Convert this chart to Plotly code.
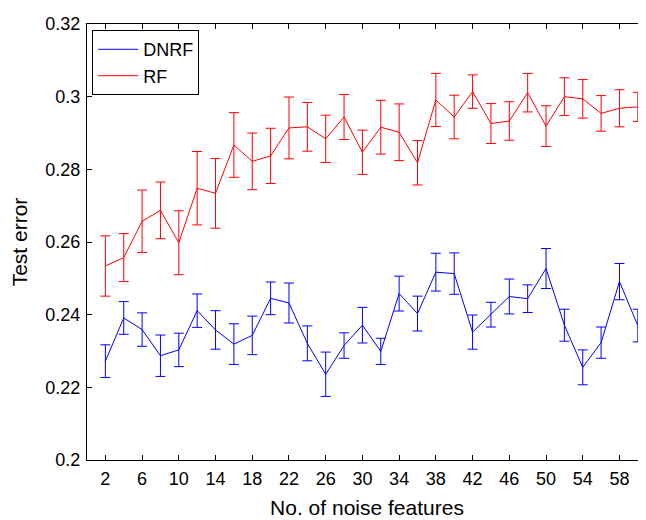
import plotly.graph_objects as go

noise_features = list(range(2, 61, 2))

dnrf_mean = [0.2272, 0.2391, 0.2359, 0.2287, 0.2303, 0.2411, 0.2358, 0.2319, 0.2343, 0.2445,
             0.2432, 0.2321, 0.2236, 0.2315, 0.2371, 0.2299, 0.2458, 0.2403, 0.2517, 0.2513,
             0.2352, 0.2400, 0.2450, 0.2444, 0.2527, 0.2371, 0.2255, 0.2323, 0.2491, 0.2370]
dnrf_err = [0.0045, 0.0045, 0.0046, 0.0057, 0.0046, 0.0046, 0.0053, 0.0056, 0.0053, 0.0045,
            0.0055, 0.0048, 0.0061, 0.0035, 0.0049, 0.0036, 0.0048, 0.0048, 0.0052, 0.0057,
            0.0047, 0.0034, 0.0048, 0.0038, 0.0055, 0.0044, 0.0048, 0.0043, 0.0050, 0.0045]

rf_mean = [0.2534, 0.2557, 0.2657, 0.2687, 0.2598, 0.2748, 0.2734, 0.2867, 0.2822, 0.2837,
           0.2914, 0.2917, 0.2884, 0.2944, 0.2847, 0.2916, 0.2902, 0.2818, 0.2991, 0.2944,
           0.3014, 0.2926, 0.2933, 0.3011, 0.2919, 0.3000, 0.2994, 0.2954, 0.2968, 0.2972]
rf_err = [0.0083, 0.0066, 0.0086, 0.0078, 0.0088, 0.0101, 0.0096, 0.0089, 0.0078, 0.0076,
          0.0085, 0.0067, 0.0065, 0.0062, 0.0061, 0.0074, 0.0078, 0.0061, 0.0073, 0.0060,
          0.0046, 0.0055, 0.0053, 0.0053, 0.0056, 0.0052, 0.0053, 0.0049, 0.0051, 0.0040]

x_ticks = list(range(2, 60, 4))
y_ticks = [0.2, 0.22, 0.24, 0.26, 0.28, 0.3, 0.32]
y_labels = ["0.2", "0.22", "0.24", "0.26", "0.28", "0.3", "0.32"]

FONT = "Liberation Sans, Arial, sans-serif"

fig = go.Figure()
fig.add_trace(go.Scatter(
    x=noise_features, y=dnrf_mean, mode="lines", name="DNRF",
    line=dict(color="#0000ff", width=1),
    error_y=dict(type="data", array=dnrf_err, visible=True, color="#0000ff", thickness=1, width=5),
))
fig.add_trace(go.Scatter(
    x=noise_features, y=rf_mean, mode="lines", name="RF",
    line=dict(color="#ff0000", width=1),
    error_y=dict(type="data", array=rf_err, visible=True, color="#ff0000", thickness=1, width=5),
))

axis_common = dict(
    showline=True, linecolor="black", linewidth=1, mirror="ticks",
    ticks="inside", ticklen=5, tickcolor="black", tickwidth=1,
    showgrid=False, zeroline=False,
    tickfont=dict(family=FONT, size=18, color="black"),
)

fig.update_layout(
    width=646, height=520,
    margin=dict(l=79, r=6, t=10, b=68),
    plot_bgcolor="white", paper_bgcolor="white",
    font=dict(family=FONT, size=18, color="black"),
    showlegend=True,
    legend=dict(
        x=0.0094, y=0.986, xanchor="left", yanchor="top",
        bordercolor="black", borderwidth=1, bgcolor="white",
        font=dict(family=FONT, size=18, color="black"),
        tracegroupgap=0, itemwidth=40,
    ),
    xaxis=dict(
        range=[0, 61.0], tickvals=x_ticks, ticklabelstandoff=2,
        title=dict(text="No. of noise features", font=dict(family=FONT, size=21), standoff=12),
        **axis_common,
    ),
    yaxis=dict(
        range=[0.2, 0.32], tickvals=y_ticks, ticktext=y_labels, ticklabelstandoff=2,
        title=dict(text="Test error", font=dict(family=FONT, size=21), standoff=12),
        **axis_common,
    ),
)

fig.write_html("out.html")
